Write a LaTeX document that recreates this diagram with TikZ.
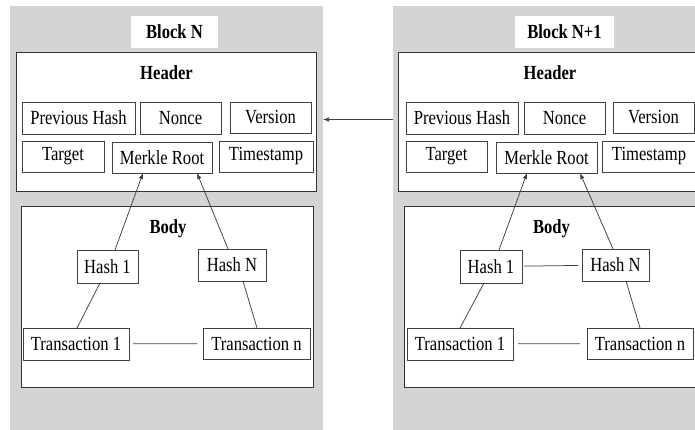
\documentclass[tikz,border=0pt]{standalone}
\usepackage{fontspec}
\setmainfont{Liberation Serif}[FakeStretch=0.83]
\usetikzlibrary{arrows.meta}

\tikzset{
  block/.style={fill=black!17, inner sep=0pt, outer sep=0pt},
  frame/.style={draw=black!80, line width=1pt, fill=white, inner sep=0pt, outer sep=0pt},
  cell/.style={draw=black!75, line width=0.8pt, fill=white, inner sep=0pt, outer sep=0pt},
  link/.style={draw=black!75, line width=0.75pt},
  up/.style={link, -{Latex[length=6pt,width=4.5pt]}},
}

\begin{document}
\begin{tikzpicture}[x=1pt, y=-1pt, font=\fontsize{20}{24}\selectfont]
\clip (0,0) rectangle (695,430);
\useasboundingbox (0,0) rectangle (695,430);

% Block N
\node (blkA) at (166.5,223) [block, minimum width=313, minimum height=434]{};
\node (titA) at (174.5,32) [fill=white, inner sep=0pt, minimum width=87, minimum height=32]{\bfseries Block N};

\node (hdrA) at (166,122.5) [frame, minimum width=300, minimum height=139]{};
\node (hdrtA) at (166.5,73) {\bfseries Header};
\node (prevA) at (78.5,118) [cell, minimum width=113, minimum height=32]{Previous Hash};
\node (nonceA) at (180.5,118) [cell, minimum width=81, minimum height=32]{Nonce};
\node (verA) at (270.5,117.5) [cell, minimum width=81, minimum height=31]{Version};
\node (tgtA) at (63,156.5) [cell, minimum width=82, minimum height=31]{Target};
\node (merkA) at (162,157.5) [cell, minimum width=100, minimum height=31]{Merkle Root};
\node (timeA) at (266,156.5) [cell, minimum width=94, minimum height=31]{Timestamp};

\node (bodyA) at (167,297) [frame, minimum width=292, minimum height=180]{};
\node (bodytA) at (168,229) {\bfseries Body};
\node (h1A) at (107.5,266.5) [cell, minimum width=61, minimum height=33]{Hash 1};
\node (hNA) at (232,265) [cell, minimum width=68, minimum height=32]{Hash N};
\node (t1A) at (76,344) [cell, minimum width=106, minimum height=32]{Transaction 1};
\node (tnA) at (256.5,343.5) [cell, minimum width=107, minimum height=31]{Transaction n};

\draw[up] ([xshift=7.5pt]h1A.north) -- ([xshift=-19pt]merkA.south);
\draw[up] ([xshift=-4pt]hNA.north) -- ([xshift=35pt]merkA.south);
\draw[link] ([xshift=-7.5pt]h1A.south) -- ([xshift=1pt]t1A.north);
\draw[link] ([xshift=11pt]hNA.south) -- ([xshift=0.5pt]tnA.north);
\draw[link, shorten <=4pt, shorten >=6pt] (t1A) -- (tnA);

% Block N+1
\node (blkB) at (556.5,223) [block, minimum width=327, minimum height=434]{};
\node (titB) at (564.5,32) [fill=white, inner sep=0pt, minimum width=99, minimum height=32]{\bfseries Block N+1};

\node (hdrB) at (559,122.5) [frame, minimum width=322, minimum height=139]{};
\node (hdrtB) at (550,73) {\bfseries Header};
\node (prevB) at (462,118) [cell, minimum width=112, minimum height=32]{Previous Hash};
\node (nonceB) at (564.5,118) [cell, minimum width=81, minimum height=32]{Nonce};
\node (verB) at (653.5,117.5) [cell, minimum width=81, minimum height=31]{Version};
\node (tgtB) at (446.5,156.5) [cell, minimum width=81, minimum height=31]{Target};
\node (merkB) at (546.5,157.5) [cell, minimum width=101, minimum height=31]{Merkle Root};
\node (timeB) at (649,156.5) [cell, minimum width=94, minimum height=31]{Timestamp};

\node (bodyB) at (562,297) [frame, minimum width=316, minimum height=180]{};
\node (bodytB) at (551.5,229) {\bfseries Body};
\node (h1B) at (491,266.5) [cell, minimum width=62, minimum height=33]{Hash 1};
\node (hNB) at (615.5,265) [cell, minimum width=67, minimum height=32]{Hash N};
\node (t1B) at (460,344) [cell, minimum width=106, minimum height=32]{Transaction 1};
\node (tnB) at (640,343.5) [cell, minimum width=106, minimum height=31]{Transaction n};

\draw[up] ([xshift=8pt]h1B.north) -- ([xshift=-19.5pt]merkB.south);
\draw[up] ([xshift=-2.5pt]hNB.north) -- ([xshift=33.5pt]merkB.south);
\draw[link] ([xshift=-7pt]h1B.south) -- (t1B.north);
\draw[link] ([xshift=10.5pt]hNB.south) -- (tnB.north);
\draw[link, shorten <=2pt, shorten >=4pt] (h1B) -- (hNB);
\draw[link, shorten <=5pt, shorten >=7pt] (t1B) -- (tnB);

% chain pointer
\draw[up, shorten <=5pt, shorten >=7pt] ([yshift=3pt]hdrB.west) -- ([yshift=3pt]hdrA.east);

\end{tikzpicture}
\end{document}
